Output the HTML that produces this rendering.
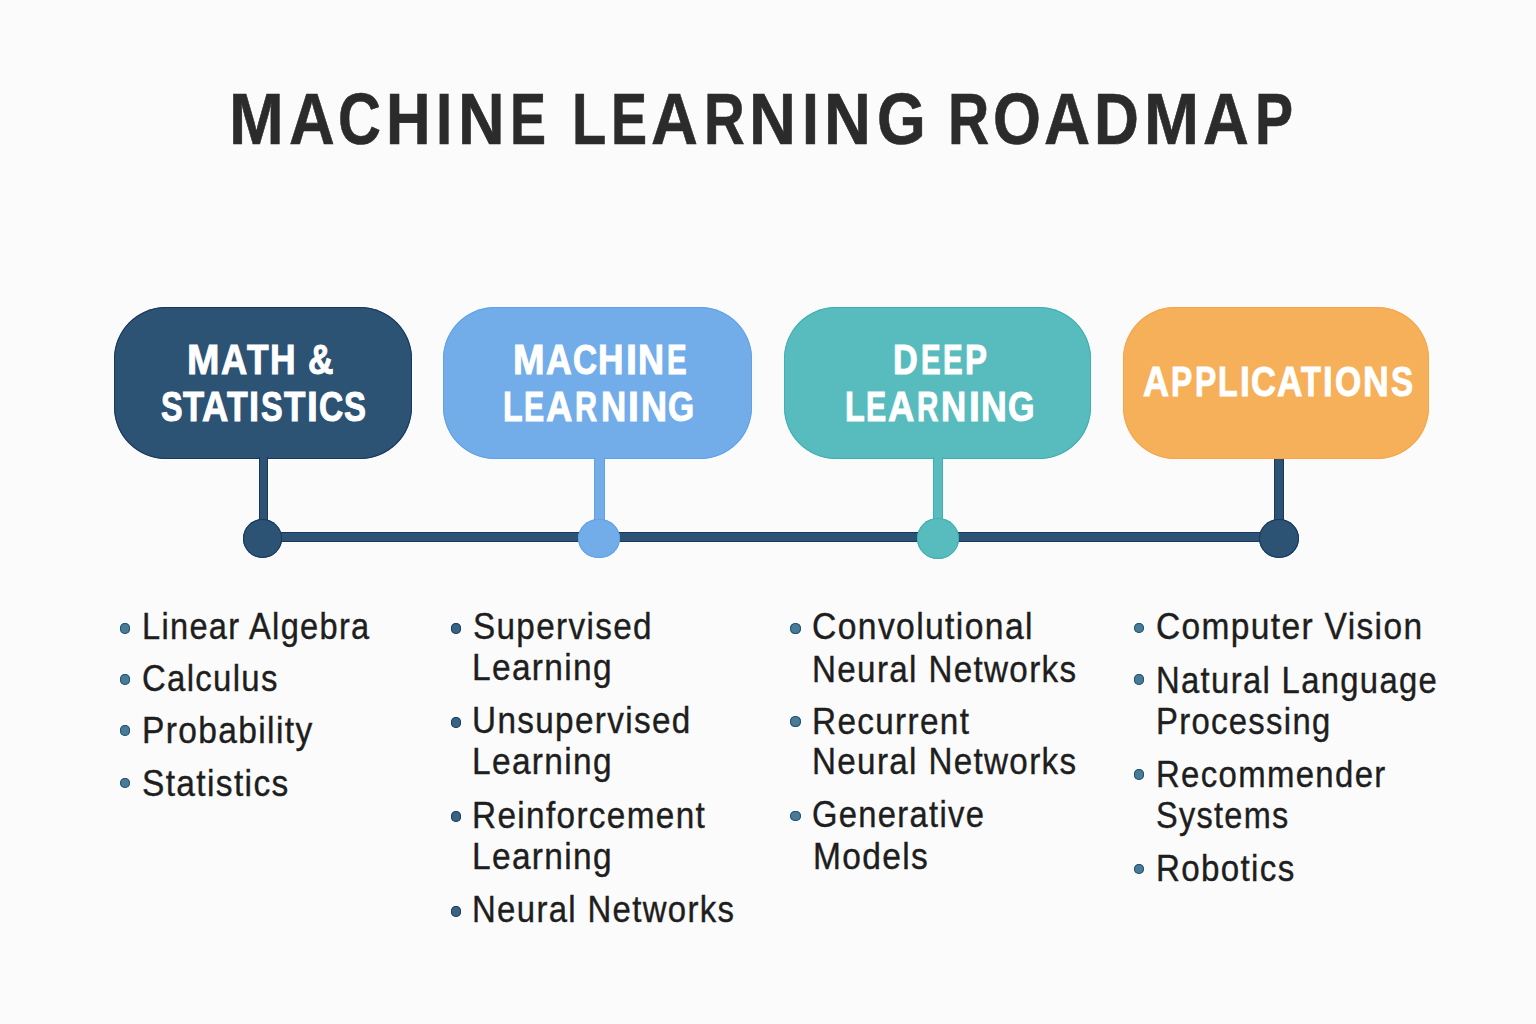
<!DOCTYPE html>
<html><head><meta charset="utf-8">
<style>
html,body{margin:0;padding:0;}
body{width:1536px;height:1024px;background:#fbfbfb;position:relative;overflow:hidden;font-family:"Liberation Sans",sans-serif;}
.abs{position:absolute;}
.t{position:absolute;white-space:nowrap;transform-origin:0 0;}
.box{position:absolute;top:307px;height:152px;border-radius:52px;}
.dot{position:absolute;border-radius:50%;}
.bul{position:absolute;border-radius:50%;}
</style></head>
<body>

<div class="abs" style="left:263px;top:532px;width:1016px;height:9.5px;background:#2c5274;box-shadow:inset 0 1px 0 #1a3760,inset 0 -1px 0 #1a3760;"></div>
<div class="box" style="left:114px;width:297.6px;background:#2c5274;box-shadow:inset 0 0 0 1px #1a3760;"></div>
<div class="box" style="left:443px;width:309px;background:#72adea;box-shadow:inset 0 0 0 1px #5fa2e8;"></div>
<div class="box" style="left:784px;width:307px;background:#58bbbd;box-shadow:inset 0 0 0 1px #3fb0b2;"></div>
<div class="box" style="left:1123px;width:306px;background:#f7b05a;box-shadow:inset 0 0 0 1px #f5a64a;"></div>
<div class="abs" style="left:259px;top:457px;width:9px;height:68px;background:#2c5274;box-shadow:inset 1px 0 0 #1a3760,inset -1px 0 0 #1a3760;"></div>
<div class="abs" style="left:594px;top:457px;width:10.5px;height:68px;background:#72adea;box-shadow:inset 1px 0 0 #5fa2e8,inset -1px 0 0 #5fa2e8;"></div>
<div class="abs" style="left:933.3px;top:457px;width:10px;height:68px;background:#58bbbd;box-shadow:inset 1px 0 0 #3fb0b2,inset -1px 0 0 #3fb0b2;"></div>
<div class="abs" style="left:1274px;top:459px;width:9.5px;height:66px;background:#2c5274;box-shadow:inset 1px 0 0 #1a3760,inset -1px 0 0 #1a3760;"></div>
<div class="dot" style="left:242.8px;top:518.6px;width:39.7px;height:39.2px;background:#2c5274;box-shadow:inset 0 0 0 1px #1a3760;"></div>
<div class="dot" style="left:578.2px;top:518.5px;width:41.5px;height:39.8px;background:#72adea;box-shadow:inset 0 0 0 1px #5fa2e8;"></div>
<div class="dot" style="left:916.9px;top:518.3px;width:42px;height:40.4px;background:#58bbbd;box-shadow:inset 0 0 0 1px #3fb0b2;"></div>
<div class="dot" style="left:1258.8px;top:518.7px;width:39.9px;height:39.1px;background:#2c5274;box-shadow:inset 0 0 0 1px #1a3760;"></div>

<div class="t" style="left:229.14px;top:82.70px;font-size:72px;line-height:72px;font-weight:bold;color:#2b2b2b;transform:scaleX(0.9119);-webkit-text-stroke:0.6px #2b2b2b;">M</div>
<div class="t" style="left:289.22px;top:82.70px;font-size:72px;line-height:72px;font-weight:bold;color:#2b2b2b;transform:scaleX(0.8802);-webkit-text-stroke:0.6px #2b2b2b;">A</div>
<div class="t" style="left:337.77px;top:82.70px;font-size:72px;line-height:72px;font-weight:bold;color:#2b2b2b;transform:scaleX(0.8256);-webkit-text-stroke:0.6px #2b2b2b;">C</div>
<div class="t" style="left:386.18px;top:82.70px;font-size:72px;line-height:72px;font-weight:bold;color:#2b2b2b;transform:scaleX(0.8585);-webkit-text-stroke:0.6px #2b2b2b;">H</div>
<div class="t" style="left:435.79px;top:82.70px;font-size:72px;line-height:72px;font-weight:bold;color:#2b2b2b;transform:scaleX(0.8108);-webkit-text-stroke:0.6px #2b2b2b;">I</div>
<div class="t" style="left:457.81px;top:82.70px;font-size:72px;line-height:72px;font-weight:bold;color:#2b2b2b;transform:scaleX(0.8956);-webkit-text-stroke:0.6px #2b2b2b;">N</div>
<div class="t" style="left:509.75px;top:82.70px;font-size:72px;line-height:72px;font-weight:bold;color:#2b2b2b;transform:scaleX(0.7500);-webkit-text-stroke:0.6px #2b2b2b;">E</div>
<div class="t" style="left:572.43px;top:82.70px;font-size:72px;line-height:72px;font-weight:bold;color:#2b2b2b;transform:scaleX(0.7793);-webkit-text-stroke:0.6px #2b2b2b;">L</div>
<div class="t" style="left:610.75px;top:82.70px;font-size:72px;line-height:72px;font-weight:bold;color:#2b2b2b;transform:scaleX(0.7500);-webkit-text-stroke:0.6px #2b2b2b;">E</div>
<div class="t" style="left:651.19px;top:82.70px;font-size:72px;line-height:72px;font-weight:bold;color:#2b2b2b;transform:scaleX(0.9028);-webkit-text-stroke:0.6px #2b2b2b;">A</div>
<div class="t" style="left:703.61px;top:82.70px;font-size:72px;line-height:72px;font-weight:bold;color:#2b2b2b;transform:scaleX(0.7832);-webkit-text-stroke:0.6px #2b2b2b;">R</div>
<div class="t" style="left:749.28px;top:82.70px;font-size:72px;line-height:72px;font-weight:bold;color:#2b2b2b;transform:scaleX(0.9026);-webkit-text-stroke:0.6px #2b2b2b;">N</div>
<div class="t" style="left:801.73px;top:82.70px;font-size:72px;line-height:72px;font-weight:bold;color:#2b2b2b;transform:scaleX(0.8468);-webkit-text-stroke:0.6px #2b2b2b;">I</div>
<div class="t" style="left:824.28px;top:82.70px;font-size:72px;line-height:72px;font-weight:bold;color:#2b2b2b;transform:scaleX(0.9026);-webkit-text-stroke:0.6px #2b2b2b;">N</div>
<div class="t" style="left:876.55px;top:82.70px;font-size:72px;line-height:72px;font-weight:bold;color:#2b2b2b;transform:scaleX(0.8697);-webkit-text-stroke:0.6px #2b2b2b;">G</div>
<div class="t" style="left:947.72px;top:82.70px;font-size:72px;line-height:72px;font-weight:bold;color:#2b2b2b;transform:scaleX(0.7929);-webkit-text-stroke:0.6px #2b2b2b;">R</div>
<div class="t" style="left:992.79px;top:82.70px;font-size:72px;line-height:72px;font-weight:bold;color:#2b2b2b;transform:scaleX(0.8557);-webkit-text-stroke:0.6px #2b2b2b;">O</div>
<div class="t" style="left:1043.51px;top:82.70px;font-size:72px;line-height:72px;font-weight:bold;color:#2b2b2b;transform:scaleX(0.8864);-webkit-text-stroke:0.6px #2b2b2b;">A</div>
<div class="t" style="left:1094.36px;top:82.70px;font-size:72px;line-height:72px;font-weight:bold;color:#2b2b2b;transform:scaleX(0.8629);-webkit-text-stroke:0.6px #2b2b2b;">D</div>
<div class="t" style="left:1144.02px;top:82.70px;font-size:72px;line-height:72px;font-weight:bold;color:#2b2b2b;transform:scaleX(0.9178);-webkit-text-stroke:0.6px #2b2b2b;">M</div>
<div class="t" style="left:1203.12px;top:82.70px;font-size:72px;line-height:72px;font-weight:bold;color:#2b2b2b;transform:scaleX(0.8823);-webkit-text-stroke:0.6px #2b2b2b;">A</div>
<div class="t" style="left:1254.77px;top:82.70px;font-size:72px;line-height:72px;font-weight:bold;color:#2b2b2b;transform:scaleX(0.7932);-webkit-text-stroke:0.6px #2b2b2b;">P</div>
<div class="t" style="left:187.41px;top:339.30px;font-size:42px;line-height:42px;font-weight:bold;color:#ffffff;transform:scaleX(0.9279);-webkit-text-stroke:1.0px #ffffff;">M</div>
<div class="t" style="left:221.37px;top:339.30px;font-size:42px;line-height:42px;font-weight:bold;color:#ffffff;transform:scaleX(0.8650);-webkit-text-stroke:1.0px #ffffff;">A</div>
<div class="t" style="left:247.10px;top:339.30px;font-size:42px;line-height:42px;font-weight:bold;color:#ffffff;transform:scaleX(0.8427);-webkit-text-stroke:1.0px #ffffff;">T</div>
<div class="t" style="left:269.90px;top:339.30px;font-size:42px;line-height:42px;font-weight:bold;color:#ffffff;transform:scaleX(0.8427);-webkit-text-stroke:1.0px #ffffff;">H</div>
<div class="t" style="left:307.55px;top:339.30px;font-size:42px;line-height:42px;font-weight:bold;color:#ffffff;transform:scaleX(0.8389);-webkit-text-stroke:1.0px #ffffff;">&amp;</div>
<div class="t" style="left:160.52px;top:385.60px;font-size:42px;line-height:42px;font-weight:bold;color:#ffffff;transform:scaleX(0.7692);-webkit-text-stroke:1.0px #ffffff;">S</div>
<div class="t" style="left:182.90px;top:385.60px;font-size:42px;line-height:42px;font-weight:bold;color:#ffffff;transform:scaleX(0.8233);-webkit-text-stroke:1.0px #ffffff;">T</div>
<div class="t" style="left:202.17px;top:385.60px;font-size:42px;line-height:42px;font-weight:bold;color:#ffffff;transform:scaleX(0.8684);-webkit-text-stroke:1.0px #ffffff;">A</div>
<div class="t" style="left:226.60px;top:385.60px;font-size:42px;line-height:42px;font-weight:bold;color:#ffffff;transform:scaleX(0.8078);-webkit-text-stroke:1.0px #ffffff;">T</div>
<div class="t" style="left:249.07px;top:385.60px;font-size:42px;line-height:42px;font-weight:bold;color:#ffffff;transform:scaleX(0.8571);-webkit-text-stroke:1.0px #ffffff;">I</div>
<div class="t" style="left:261.32px;top:385.60px;font-size:42px;line-height:42px;font-weight:bold;color:#ffffff;transform:scaleX(0.7731);-webkit-text-stroke:1.0px #ffffff;">S</div>
<div class="t" style="left:283.80px;top:385.60px;font-size:42px;line-height:42px;font-weight:bold;color:#ffffff;transform:scaleX(0.8350);-webkit-text-stroke:1.0px #ffffff;">T</div>
<div class="t" style="left:306.71px;top:385.60px;font-size:42px;line-height:42px;font-weight:bold;color:#ffffff;transform:scaleX(0.9286);-webkit-text-stroke:1.0px #ffffff;">I</div>
<div class="t" style="left:319.30px;top:385.60px;font-size:42px;line-height:42px;font-weight:bold;color:#ffffff;transform:scaleX(0.8000);-webkit-text-stroke:1.0px #ffffff;">C</div>
<div class="t" style="left:344.41px;top:385.60px;font-size:42px;line-height:42px;font-weight:bold;color:#ffffff;transform:scaleX(0.7846);-webkit-text-stroke:1.0px #ffffff;">S</div>
<div class="t" style="left:512.57px;top:339.20px;font-size:42px;line-height:42px;font-weight:bold;color:#ffffff;transform:scaleX(0.9016);-webkit-text-stroke:1.0px #ffffff;">M</div>
<div class="t" style="left:545.68px;top:339.20px;font-size:42px;line-height:42px;font-weight:bold;color:#ffffff;transform:scaleX(0.8479);-webkit-text-stroke:1.0px #ffffff;">A</div>
<div class="t" style="left:572.61px;top:339.20px;font-size:42px;line-height:42px;font-weight:bold;color:#ffffff;transform:scaleX(0.7929);-webkit-text-stroke:1.0px #ffffff;">C</div>
<div class="t" style="left:598.31px;top:339.20px;font-size:42px;line-height:42px;font-weight:bold;color:#ffffff;transform:scaleX(0.8388);-webkit-text-stroke:1.0px #ffffff;">H</div>
<div class="t" style="left:625.68px;top:339.20px;font-size:42px;line-height:42px;font-weight:bold;color:#ffffff;transform:scaleX(0.9429);-webkit-text-stroke:1.0px #ffffff;">I</div>
<div class="t" style="left:637.87px;top:339.20px;font-size:42px;line-height:42px;font-weight:bold;color:#ffffff;transform:scaleX(0.8583);-webkit-text-stroke:1.0px #ffffff;">N</div>
<div class="t" style="left:666.75px;top:339.20px;font-size:42px;line-height:42px;font-weight:bold;color:#ffffff;transform:scaleX(0.7000);-webkit-text-stroke:1.0px #ffffff;">E</div>
<div class="t" style="left:503.18px;top:385.70px;font-size:42px;line-height:42px;font-weight:bold;color:#ffffff;transform:scaleX(0.7644);-webkit-text-stroke:1.0px #ffffff;">L</div>
<div class="t" style="left:523.78px;top:385.70px;font-size:42px;line-height:42px;font-weight:bold;color:#ffffff;transform:scaleX(0.7184);-webkit-text-stroke:1.0px #ffffff;">E</div>
<div class="t" style="left:546.47px;top:385.70px;font-size:42px;line-height:42px;font-weight:bold;color:#ffffff;transform:scaleX(0.8684);-webkit-text-stroke:1.0px #ffffff;">A</div>
<div class="t" style="left:575.16px;top:385.70px;font-size:42px;line-height:42px;font-weight:bold;color:#ffffff;transform:scaleX(0.7279);-webkit-text-stroke:1.0px #ffffff;">R</div>
<div class="t" style="left:601.03px;top:385.70px;font-size:42px;line-height:42px;font-weight:bold;color:#ffffff;transform:scaleX(0.8311);-webkit-text-stroke:1.0px #ffffff;">N</div>
<div class="t" style="left:628.11px;top:385.70px;font-size:42px;line-height:42px;font-weight:bold;color:#ffffff;transform:scaleX(0.9286);-webkit-text-stroke:1.0px #ffffff;">I</div>
<div class="t" style="left:640.67px;top:385.70px;font-size:42px;line-height:42px;font-weight:bold;color:#ffffff;transform:scaleX(0.8583);-webkit-text-stroke:1.0px #ffffff;">N</div>
<div class="t" style="left:668.30px;top:385.70px;font-size:42px;line-height:42px;font-weight:bold;color:#ffffff;transform:scaleX(0.8000);-webkit-text-stroke:1.0px #ffffff;">G</div>
<div class="t" style="left:892.87px;top:339.10px;font-size:42px;line-height:42px;font-weight:bold;color:#ffffff;transform:scaleX(0.8150);-webkit-text-stroke:1.0px #ffffff;">D</div>
<div class="t" style="left:920.50px;top:339.10px;font-size:42px;line-height:42px;font-weight:bold;color:#ffffff;transform:scaleX(0.7000);-webkit-text-stroke:1.0px #ffffff;">E</div>
<div class="t" style="left:942.70px;top:339.10px;font-size:42px;line-height:42px;font-weight:bold;color:#ffffff;transform:scaleX(0.7000);-webkit-text-stroke:1.0px #ffffff;">E</div>
<div class="t" style="left:964.84px;top:339.10px;font-size:42px;line-height:42px;font-weight:bold;color:#ffffff;transform:scaleX(0.7838);-webkit-text-stroke:1.0px #ffffff;">P</div>
<div class="t" style="left:845.07px;top:385.70px;font-size:42px;line-height:42px;font-weight:bold;color:#ffffff;transform:scaleX(0.7689);-webkit-text-stroke:1.0px #ffffff;">L</div>
<div class="t" style="left:865.68px;top:385.70px;font-size:42px;line-height:42px;font-weight:bold;color:#ffffff;transform:scaleX(0.7184);-webkit-text-stroke:1.0px #ffffff;">E</div>
<div class="t" style="left:888.37px;top:385.70px;font-size:42px;line-height:42px;font-weight:bold;color:#ffffff;transform:scaleX(0.8684);-webkit-text-stroke:1.0px #ffffff;">A</div>
<div class="t" style="left:916.51px;top:385.70px;font-size:42px;line-height:42px;font-weight:bold;color:#ffffff;transform:scaleX(0.7063);-webkit-text-stroke:1.0px #ffffff;">R</div>
<div class="t" style="left:941.03px;top:385.70px;font-size:42px;line-height:42px;font-weight:bold;color:#ffffff;transform:scaleX(0.8311);-webkit-text-stroke:1.0px #ffffff;">N</div>
<div class="t" style="left:968.81px;top:385.70px;font-size:42px;line-height:42px;font-weight:bold;color:#ffffff;transform:scaleX(0.9286);-webkit-text-stroke:1.0px #ffffff;">I</div>
<div class="t" style="left:981.29px;top:385.70px;font-size:42px;line-height:42px;font-weight:bold;color:#ffffff;transform:scaleX(0.8505);-webkit-text-stroke:1.0px #ffffff;">N</div>
<div class="t" style="left:1008.29px;top:385.70px;font-size:42px;line-height:42px;font-weight:bold;color:#ffffff;transform:scaleX(0.8103);-webkit-text-stroke:1.0px #ffffff;">G</div>
<div class="t" style="left:1143.47px;top:361.00px;font-size:42px;line-height:42px;font-weight:bold;color:#ffffff;transform:scaleX(0.8581);-webkit-text-stroke:1.0px #ffffff;">A</div>
<div class="t" style="left:1171.40px;top:361.00px;font-size:42px;line-height:42px;font-weight:bold;color:#ffffff;transform:scaleX(0.7556);-webkit-text-stroke:1.0px #ffffff;">P</div>
<div class="t" style="left:1195.10px;top:361.00px;font-size:42px;line-height:42px;font-weight:bold;color:#ffffff;transform:scaleX(0.7556);-webkit-text-stroke:1.0px #ffffff;">P</div>
<div class="t" style="left:1218.28px;top:361.00px;font-size:42px;line-height:42px;font-weight:bold;color:#ffffff;transform:scaleX(0.7644);-webkit-text-stroke:1.0px #ffffff;">L</div>
<div class="t" style="left:1239.60px;top:361.00px;font-size:42px;line-height:42px;font-weight:bold;color:#ffffff;transform:scaleX(0.8429);-webkit-text-stroke:1.0px #ffffff;">I</div>
<div class="t" style="left:1251.37px;top:361.00px;font-size:42px;line-height:42px;font-weight:bold;color:#ffffff;transform:scaleX(0.8212);-webkit-text-stroke:1.0px #ffffff;">C</div>
<div class="t" style="left:1276.88px;top:361.00px;font-size:42px;line-height:42px;font-weight:bold;color:#ffffff;transform:scaleX(0.8410);-webkit-text-stroke:1.0px #ffffff;">A</div>
<div class="t" style="left:1301.00px;top:361.00px;font-size:42px;line-height:42px;font-weight:bold;color:#ffffff;transform:scaleX(0.7767);-webkit-text-stroke:1.0px #ffffff;">T</div>
<div class="t" style="left:1323.14px;top:361.00px;font-size:42px;line-height:42px;font-weight:bold;color:#ffffff;transform:scaleX(0.8286);-webkit-text-stroke:1.0px #ffffff;">I</div>
<div class="t" style="left:1334.90px;top:361.00px;font-size:42px;line-height:42px;font-weight:bold;color:#ffffff;transform:scaleX(0.8033);-webkit-text-stroke:1.0px #ffffff;">O</div>
<div class="t" style="left:1363.29px;top:361.00px;font-size:42px;line-height:42px;font-weight:bold;color:#ffffff;transform:scaleX(0.8505);-webkit-text-stroke:1.0px #ffffff;">N</div>
<div class="t" style="left:1390.61px;top:361.00px;font-size:42px;line-height:42px;font-weight:bold;color:#ffffff;transform:scaleX(0.7885);-webkit-text-stroke:1.0px #ffffff;">S</div>
<div class="t" style="left:141.96px;top:608.00px;font-size:37px;line-height:37px;font-weight:normal;letter-spacing:1.5px;color:#1e1e1e;transform:scaleX(0.8803);-webkit-text-stroke:0.4px #1e1e1e;">Linear Algebra</div>
<div class="t" style="left:141.92px;top:660.00px;font-size:37px;line-height:37px;font-weight:normal;letter-spacing:1.5px;color:#1e1e1e;transform:scaleX(0.8886);-webkit-text-stroke:0.4px #1e1e1e;">Calculus</div>
<div class="t" style="left:141.88px;top:711.70px;font-size:37px;line-height:37px;font-weight:normal;letter-spacing:1.5px;color:#1e1e1e;transform:scaleX(0.9062);-webkit-text-stroke:0.4px #1e1e1e;">Probability</div>
<div class="t" style="left:142.12px;top:764.80px;font-size:37px;line-height:37px;font-weight:normal;letter-spacing:1.5px;color:#1e1e1e;transform:scaleX(0.9054);-webkit-text-stroke:0.4px #1e1e1e;">Statistics</div>
<div class="t" style="left:472.63px;top:608.00px;font-size:37px;line-height:37px;font-weight:normal;letter-spacing:1.5px;color:#1e1e1e;transform:scaleX(0.8987);-webkit-text-stroke:0.4px #1e1e1e;">Supervised</div>
<div class="t" style="left:472.09px;top:649.00px;font-size:37px;line-height:37px;font-weight:normal;letter-spacing:1.5px;color:#1e1e1e;transform:scaleX(0.9040);-webkit-text-stroke:0.4px #1e1e1e;">Learning</div>
<div class="t" style="left:472.33px;top:701.80px;font-size:37px;line-height:37px;font-weight:normal;letter-spacing:1.5px;color:#1e1e1e;transform:scaleX(0.8994);-webkit-text-stroke:0.4px #1e1e1e;">Unsupervised</div>
<div class="t" style="left:472.09px;top:742.80px;font-size:37px;line-height:37px;font-weight:normal;letter-spacing:1.5px;color:#1e1e1e;transform:scaleX(0.9040);-webkit-text-stroke:0.4px #1e1e1e;">Learning</div>
<div class="t" style="left:472.10px;top:796.50px;font-size:37px;line-height:37px;font-weight:normal;letter-spacing:1.5px;color:#1e1e1e;transform:scaleX(0.9003);-webkit-text-stroke:0.4px #1e1e1e;">Reinforcement</div>
<div class="t" style="left:472.09px;top:837.90px;font-size:37px;line-height:37px;font-weight:normal;letter-spacing:1.5px;color:#1e1e1e;transform:scaleX(0.9040);-webkit-text-stroke:0.4px #1e1e1e;">Learning</div>
<div class="t" style="left:472.13px;top:890.60px;font-size:37px;line-height:37px;font-weight:normal;letter-spacing:1.5px;color:#1e1e1e;transform:scaleX(0.8896);-webkit-text-stroke:0.4px #1e1e1e;">Neural Networks</div>
<div class="t" style="left:812.08px;top:608.40px;font-size:37px;line-height:37px;font-weight:normal;letter-spacing:1.5px;color:#1e1e1e;transform:scaleX(0.9102);-webkit-text-stroke:0.4px #1e1e1e;">Convolutional</div>
<div class="t" style="left:812.01px;top:650.70px;font-size:37px;line-height:37px;font-weight:normal;letter-spacing:1.5px;color:#1e1e1e;transform:scaleX(0.8968);-webkit-text-stroke:0.4px #1e1e1e;">Neural Networks</div>
<div class="t" style="left:812.00px;top:702.60px;font-size:37px;line-height:37px;font-weight:normal;letter-spacing:1.5px;color:#1e1e1e;transform:scaleX(0.8993);-webkit-text-stroke:0.4px #1e1e1e;">Recurrent</div>
<div class="t" style="left:812.01px;top:743.00px;font-size:37px;line-height:37px;font-weight:normal;letter-spacing:1.5px;color:#1e1e1e;transform:scaleX(0.8968);-webkit-text-stroke:0.4px #1e1e1e;">Neural Networks</div>
<div class="t" style="left:812.35px;top:796.40px;font-size:37px;line-height:37px;font-weight:normal;letter-spacing:1.5px;color:#1e1e1e;transform:scaleX(0.8843);-webkit-text-stroke:0.4px #1e1e1e;">Generative</div>
<div class="t" style="left:812.58px;top:837.80px;font-size:37px;line-height:37px;font-weight:normal;letter-spacing:1.5px;color:#1e1e1e;transform:scaleX(0.9061);-webkit-text-stroke:0.4px #1e1e1e;">Models</div>
<div class="t" style="left:1155.79px;top:608.30px;font-size:37px;line-height:37px;font-weight:normal;letter-spacing:1.5px;color:#1e1e1e;transform:scaleX(0.9054);-webkit-text-stroke:0.4px #1e1e1e;">Computer Vision</div>
<div class="t" style="left:1156.04px;top:661.80px;font-size:37px;line-height:37px;font-weight:normal;letter-spacing:1.5px;color:#1e1e1e;transform:scaleX(0.8869);-webkit-text-stroke:0.4px #1e1e1e;">Natural Language</div>
<div class="t" style="left:1156.04px;top:702.60px;font-size:37px;line-height:37px;font-weight:normal;letter-spacing:1.5px;color:#1e1e1e;transform:scaleX(0.8864);-webkit-text-stroke:0.4px #1e1e1e;">Processing</div>
<div class="t" style="left:1156.03px;top:756.00px;font-size:37px;line-height:37px;font-weight:normal;letter-spacing:1.5px;color:#1e1e1e;transform:scaleX(0.8898);-webkit-text-stroke:0.4px #1e1e1e;">Recommender</div>
<div class="t" style="left:1156.07px;top:797.40px;font-size:37px;line-height:37px;font-weight:normal;letter-spacing:1.5px;color:#1e1e1e;transform:scaleX(0.8765);-webkit-text-stroke:0.4px #1e1e1e;">Systems</div>
<div class="t" style="left:1156.01px;top:849.60px;font-size:37px;line-height:37px;font-weight:normal;letter-spacing:1.5px;color:#1e1e1e;transform:scaleX(0.8953);-webkit-text-stroke:0.4px #1e1e1e;">Robotics</div>
<div class="bul" style="left:119.75px;top:623.15px;width:10.5px;height:10.5px;background:#4a7b96;box-shadow:inset 0 0 0 1px #1f5272;"></div>
<div class="bul" style="left:119.75px;top:674.25px;width:10.5px;height:10.5px;background:#4a7b96;box-shadow:inset 0 0 0 1px #1f5272;"></div>
<div class="bul" style="left:119.75px;top:725.15px;width:10.5px;height:10.5px;background:#4a7b96;box-shadow:inset 0 0 0 1px #1f5272;"></div>
<div class="bul" style="left:119.75px;top:777.85px;width:10.5px;height:10.5px;background:#4a7b96;box-shadow:inset 0 0 0 1px #1f5272;"></div>
<div class="bul" style="left:450.75px;top:623.15px;width:10.5px;height:10.5px;background:#3a6383;box-shadow:inset 0 0 0 1px #173f63;"></div>
<div class="bul" style="left:450.75px;top:717.25px;width:10.5px;height:10.5px;background:#3a6383;box-shadow:inset 0 0 0 1px #173f63;"></div>
<div class="bul" style="left:450.75px;top:811.45px;width:10.5px;height:10.5px;background:#3a6383;box-shadow:inset 0 0 0 1px #173f63;"></div>
<div class="bul" style="left:450.75px;top:906.05px;width:10.5px;height:10.5px;background:#3a6383;box-shadow:inset 0 0 0 1px #173f63;"></div>
<div class="bul" style="left:790.45px;top:623.05px;width:10.5px;height:10.5px;background:#4a7b96;box-shadow:inset 0 0 0 1px #1f5272;"></div>
<div class="bul" style="left:790.45px;top:716.45px;width:10.5px;height:10.5px;background:#4a7b96;box-shadow:inset 0 0 0 1px #1f5272;"></div>
<div class="bul" style="left:790.45px;top:810.65px;width:10.5px;height:10.5px;background:#4a7b96;box-shadow:inset 0 0 0 1px #1f5272;"></div>
<div class="bul" style="left:1133.65px;top:622.65px;width:10.5px;height:10.5px;background:#4a7b96;box-shadow:inset 0 0 0 1px #1f5272;"></div>
<div class="bul" style="left:1133.65px;top:674.25px;width:10.5px;height:10.5px;background:#4a7b96;box-shadow:inset 0 0 0 1px #1f5272;"></div>
<div class="bul" style="left:1133.65px;top:769.05px;width:10.5px;height:10.5px;background:#4a7b96;box-shadow:inset 0 0 0 1px #1f5272;"></div>
<div class="bul" style="left:1133.65px;top:863.95px;width:10.5px;height:10.5px;background:#4a7b96;box-shadow:inset 0 0 0 1px #1f5272;"></div>
</body></html>
